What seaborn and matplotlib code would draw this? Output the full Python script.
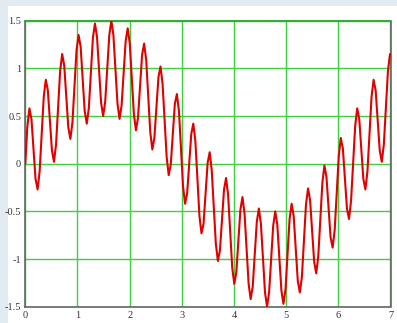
import numpy as np
import matplotlib
matplotlib.use("Agg")
import matplotlib.pyplot as plt
from matplotlib.patches import Rectangle
import seaborn as sns

# Sampled curve values (uniform x step of ~0.03927 from 0 to ~6.99)
x_step = 0.0392699
y_values = [
    0.00, 0.39, 0.58, 0.47, 0.16, -0.16, -0.27, -0.08,
    0.31, 0.70, 0.88, 0.77, 0.45, 0.14, 0.02, 0.20,
    0.59, 0.97, 1.15, 1.03, 0.71, 0.38, 0.26, 0.43,
    0.81, 1.19, 1.35, 1.23, 0.89, 0.55, 0.42, 0.58,
    0.95, 1.32, 1.47, 1.33, 0.99, 0.64, 0.50, 0.65,
    1.00, 1.35, 1.50, 1.35, 0.99, 0.63, 0.47, 0.61,
    0.95, 1.29, 1.42, 1.26, 0.89, 0.52, 0.35, 0.48,
    0.81, 1.14, 1.26, 1.09, 0.71, 0.33, 0.15, 0.27,
    0.59, 0.91, 1.02, 0.84, 0.45, 0.07, -0.12, -0.01,
    0.31, 0.63, 0.73, 0.55, 0.16, -0.24, -0.42, -0.31,
    0.00, 0.31, 0.42, 0.24, -0.16, -0.55, -0.73, -0.63,
    -0.31, 0.01, 0.12, -0.07, -0.45, -0.84, -1.02, -0.91,
    -0.59, -0.27, -0.15, -0.33, -0.71, -1.09, -1.26, -1.14,
    -0.81, -0.48, -0.35, -0.52, -0.89, -1.26, -1.42, -1.29,
    -0.95, -0.61, -0.47, -0.63, -0.99, -1.35, -1.50, -1.35,
    -1.00, -0.65, -0.50, -0.64, -0.99, -1.33, -1.47, -1.32,
    -0.95, -0.58, -0.42, -0.55, -0.89, -1.23, -1.35, -1.19,
    -0.81, -0.43, -0.26, -0.38, -0.71, -1.03, -1.15, -0.97,
    -0.59, -0.20, -0.02, -0.14, -0.45, -0.77, -0.88, -0.70,
    -0.31, 0.08, 0.27, 0.16, -0.16, -0.47, -0.58, -0.39,
    0.00, 0.39, 0.58, 0.47, 0.16, -0.16, -0.27, -0.08,
    0.31, 0.70, 0.88, 0.77, 0.45, 0.14, 0.02, 0.20,
    0.59, 0.97, 1.15,
]
x_values = np.arange(len(y_values)) * x_step

x_ticks = [0, 1, 2, 3, 4, 5, 6, 7]
x_tick_labels = ["0", "1", "2", "3", "4", "5", "6", "7"]
y_ticks = [-1.5, -1, -0.5, 0, 0.5, 1, 1.5]
y_tick_labels = ["-1.5", "-1", "-0.5", "0", "0.5", "1", "1.5"]

sns.set_style("white")
plt.rcParams["font.family"] = ["Liberation Serif", "DejaVu Serif"]

fig = plt.figure(figsize=(3.97, 3.23), dpi=100, facecolor="white")
band = "#e2ebf2"
fig.patches.append(Rectangle((0, 1 - 6 / 323), 1, 6 / 323, transform=fig.transFigure,
                             facecolor=band, edgecolor="none", zorder=-5))
fig.patches.append(Rectangle((0, 0), 7.5 / 397, 1, transform=fig.transFigure,
                             facecolor=band, edgecolor="none", zorder=-5))

ax = fig.add_axes([25.3 / 397, 1 - 306.7 / 323, (390.5 - 25.3) / 397, (306.7 - 20.7) / 323])
ax.set_facecolor("white")

sns.lineplot(x=x_values, y=y_values, ax=ax, color="#e00000", linewidth=1.5,
             estimator=None, sort=False, zorder=3)

ax.set_xlim(0, 7)
ax.set_ylim(-1.5, 1.5)
ax.set_xticks(x_ticks)
ax.set_xticklabels(x_tick_labels)
ax.set_yticks(y_ticks)
ax.set_yticklabels(y_tick_labels)
ax.grid(True, color="#3fd03f", linewidth=1.0)
ax.set_axisbelow(True)
ax.tick_params(axis="both", length=0, labelsize=7.5, colors="#333333")
ax.tick_params(axis="x", pad=3)
ax.tick_params(axis="y", pad=3)
for side in ["left", "bottom", "right"]:
    ax.spines[side].set_color("#666666")
    ax.spines[side].set_linewidth(1.2)
ax.spines["top"].set_color("#3aa83a")
ax.spines["top"].set_linewidth(1.5)
ax.set_xlabel("")
ax.set_ylabel("")

fig.savefig("out.png", dpi=100, facecolor="white")
